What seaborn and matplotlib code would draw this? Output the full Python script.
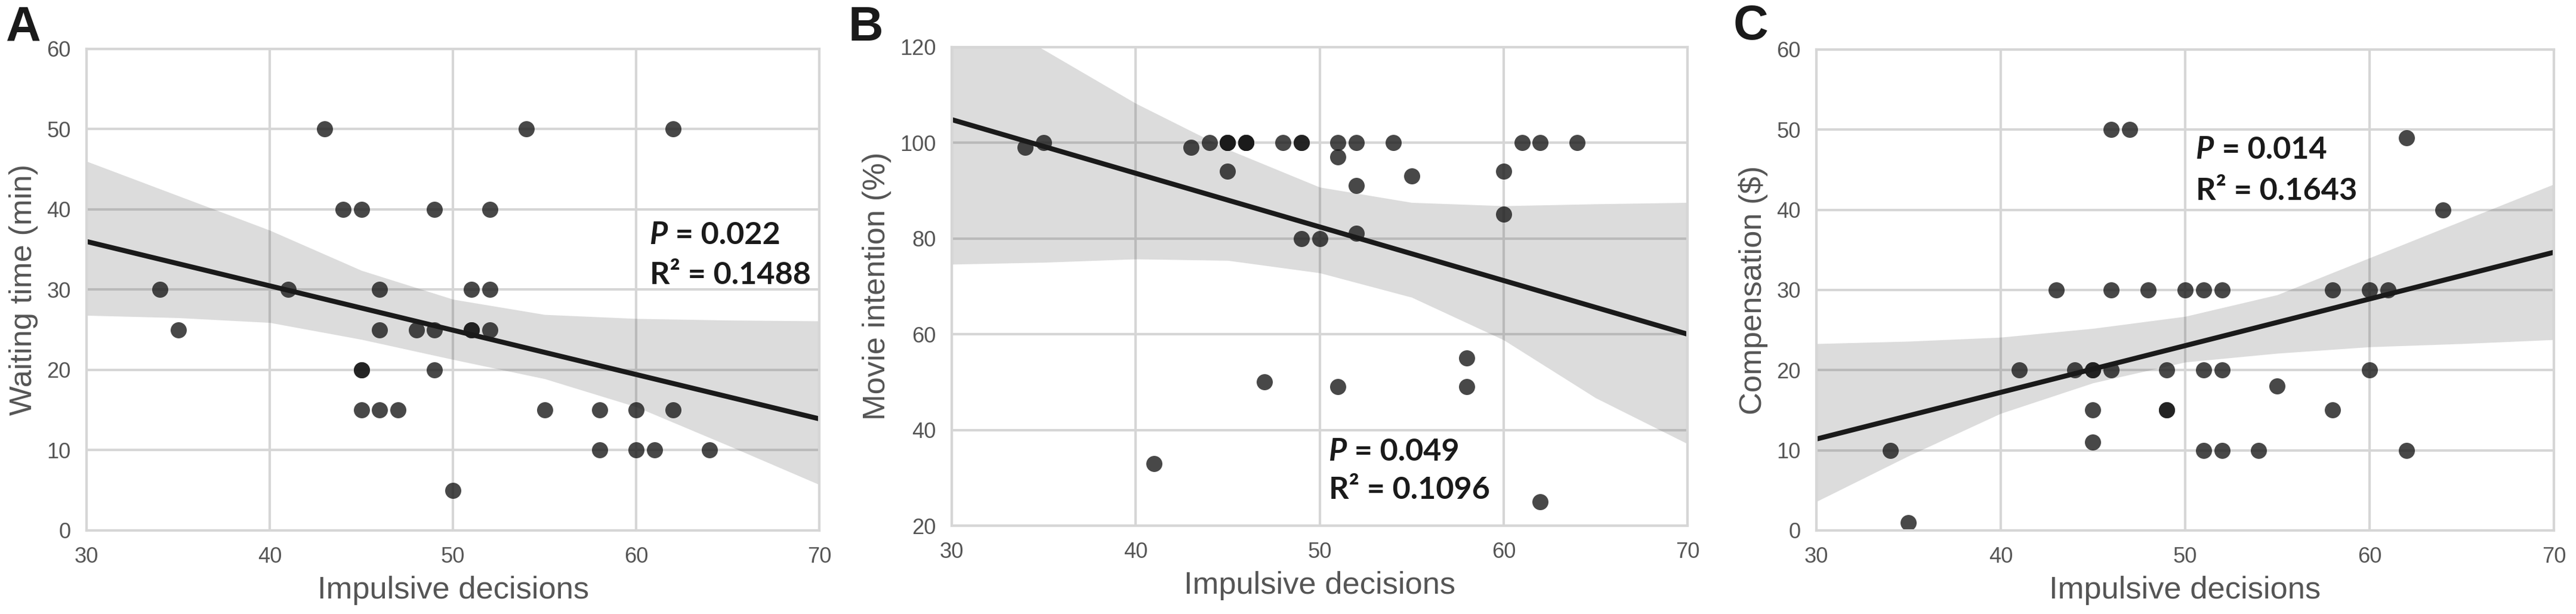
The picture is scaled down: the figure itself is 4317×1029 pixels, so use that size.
import numpy as np
import pandas as pd
import seaborn as sns
import matplotlib.pyplot as plt

# impulsive decisions score (x) vs outcome (y), one pair of lists per panel
wait_x = [43, 54, 62, 44, 45, 49, 52, 34, 41, 46, 51, 52, 35, 46, 48, 49, 51, 51, 52,
          45, 45, 49, 45, 46, 47, 55, 58, 60, 62, 58, 60, 61, 64, 50]
wait_y = [50, 50, 50, 40, 40, 40, 40, 30, 30, 30, 30, 30, 25, 25, 25, 25, 25, 25, 25,
          20, 20, 20, 15, 15, 15, 15, 15, 15, 15, 10, 10, 10, 10, 5]

movie_x = [34, 35, 43, 44, 45, 45, 45, 46, 46, 46, 48, 49, 49, 51, 52, 54, 61, 62, 64,
           45, 51, 52, 55, 60, 60, 49, 50, 52, 47, 51, 58, 58, 41, 62]
movie_y = [99, 100, 99, 100, 100, 100, 100, 100, 100, 100, 100, 100, 100, 100, 100, 100, 100, 100, 100,
           94, 97, 91, 93, 94, 85, 80, 80, 81, 50, 49, 55, 49, 33, 25]

comp_x = [46, 47, 62, 64, 43, 46, 48, 50, 51, 52, 58, 60, 61, 41, 44, 45, 45, 46, 49, 51, 52, 60,
          55, 45, 49, 49, 58, 45, 34, 51, 52, 54, 62, 35]
comp_y = [50, 50, 49, 40, 30, 30, 30, 30, 30, 30, 30, 30, 30, 20, 20, 20, 20, 20, 20, 20, 20, 20,
          18, 15, 15, 15, 15, 11, 10, 10, 10, 10, 10, 1]

# fitted line (ends of the x range) and confidence band
fit_x = [30, 70]
wait_fit = [36.0, 13.9]
movie_fit = [104.8, 60.0]
comp_fit = [11.4, 34.7]

band_x = [30, 35, 40, 45, 50, 55, 60, 65, 70]
wait_band_hi = [46.0, 41.7, 37.4, 32.4, 28.8, 26.9, 26.4, 26.2, 26.1]
wait_band_lo = [26.8, 26.5, 25.9, 23.8, 21.3, 18.9, 15.4, 10.6, 5.7]
movie_band_hi = [130.0, 119.4, 108.2, 98.6, 90.7, 87.5, 86.8, 87.2, 87.5]
movie_band_lo = [74.6, 75.0, 75.7, 75.4, 72.8, 67.7, 58.8, 46.7, 37.1]
comp_band_hi = [23.3, 23.6, 24.1, 25.2, 26.7, 29.4, 34.0, 38.6, 43.2]
comp_band_lo = [3.6, 9.3, 14.6, 18.4, 21.0, 22.1, 22.9, 23.3, 23.8]

panel_letters = ["A", "B", "C"]
y_labels = ["Waiting time (min)", "Movie intention (%)", "Compensation ($)"]
p_texts = [" = 0.022", " = 0.049", " = 0.014"]
r2_texts = ["R\u00b2 = 0.1488", "R\u00b2 = 0.1096", "R\u00b2 = 0.1643"]

sns.set_theme(style="whitegrid", rc={
    "grid.color": "#d6d6d6",
    "axes.edgecolor": "#d6d6d6",
    "axes.linewidth": 1.0,
    "grid.linewidth": 1.0,
})
plt.rcParams["font.family"] = ["Liberation Sans", "DejaVu Sans"]

fig = plt.figure(figsize=(4317 / 300, 1029 / 300), dpi=300)
ax_a = fig.add_axes([0.0336, 0.1361, 0.2845, 0.7843])
ax_b = fig.add_axes([0.3695, 0.1438, 0.2856, 0.7799])
ax_c = fig.add_axes([0.7051, 0.1361, 0.2863, 0.7833])


def draw_panel(ax, x, y, fit_y, lo, hi, ylim, ystep, ylabel, p_txt, r2_txt, tx, ty, ry):
    df = pd.DataFrame({"impulsive": x, "outcome": y})
    sns.scatterplot(data=df, x="impulsive", y="outcome", ax=ax, color="k",
                    alpha=0.8, s=42, linewidth=0)
    ax.fill_between(band_x, lo, hi, color="k", alpha=0.15, linewidth=0)
    sns.lineplot(x=fit_x, y=fit_y, ax=ax, color="k", lw=2)

    ax.set_xlim(30, 70)
    ax.set_ylim(*ylim)
    ax.set_xticks(np.arange(30, 71, 10))
    ax.set_yticks(np.arange(ylim[0], ylim[1] + 1, ystep))
    ax.tick_params(axis="x", length=0, labelsize=8.7, labelcolor="#555555", pad=6.5)
    ax.tick_params(axis="y", length=0, labelsize=8.7, labelcolor="#555555", pad=6.3)
    ax.set_xlabel("Impulsive decisions", fontsize=12.6, color="#555555", labelpad=3.4)
    ax.set_ylabel(ylabel, fontsize=12.6, color="#555555", labelpad=3.4)

    # stats annotation
    tp = ax.text(tx, ty, "P", fontsize=12.5, family="Lato", fontweight="bold",
                 fontstyle="italic", color="k", va="baseline")
    ax.annotate(p_txt, xy=(1, 0), xycoords=tp, fontsize=12.5, family="Lato",
                fontweight="bold", color="k", va="bottom", ha="left")
    ax.text(tx, ry, r2_txt, fontsize=12.5, family="Lato", fontweight="bold",
            color="k", va="baseline")


draw_panel(ax_a, wait_x, wait_y, wait_fit, wait_band_lo, wait_band_hi, (0, 60), 10,
           y_labels[0], p_texts[0], r2_texts[0], 60.74, 35.7, 30.7)
draw_panel(ax_b, movie_x, movie_y, movie_fit, movie_band_lo, movie_band_hi, (20, 120), 20,
           y_labels[1], p_texts[1], r2_texts[1], 50.5, 33.6, 25.6)
draw_panel(ax_c, comp_x, comp_y, comp_fit, comp_band_lo, comp_band_hi, (0, 60), 10,
           y_labels[2], p_texts[2], r2_texts[2], 50.6, 46.4, 41.25)

for letter, xpos, base in zip(panel_letters, [10, 1422, 2905], [68, 68, 66]):
    fig.text(xpos / 4317, 1 - base / 1029, letter, fontsize=19.5, fontweight="bold",
             family="Liberation Sans", color="k", va="baseline", ha="left")

fig.savefig("out.png", dpi=300)
